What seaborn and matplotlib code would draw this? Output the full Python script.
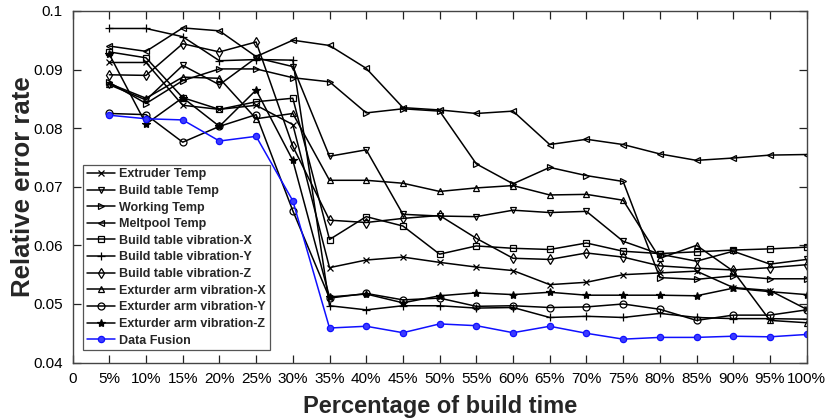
import matplotlib
matplotlib.use("Agg")
import matplotlib.pyplot as plt
from matplotlib import font_manager
import seaborn as sns
import pandas as pd

# Build-time checkpoints (percent of build time)
build_pct = [5, 10, 15, 20, 25, 30, 35, 40, 45, 50, 55, 60, 65, 70, 75, 80, 85, 90, 95, 100]

extruder_temp = [0.0912, 0.0912, 0.0839, 0.0832, 0.0839, 0.0806, 0.0562, 0.0575, 0.0580, 0.0571,
                 0.0563, 0.0557, 0.0533, 0.0537, 0.0550, 0.0553, 0.0556, 0.0528, 0.0523, 0.0491]
build_table_temp = [0.0874, 0.0848, 0.0907, 0.0874, 0.0920, 0.0905, 0.0752, 0.0763, 0.0653, 0.0650,
                    0.0649, 0.0660, 0.0656, 0.0658, 0.0607, 0.0585, 0.0573, 0.0590, 0.0568, 0.0576]
working_temp = [0.0878, 0.0842, 0.0881, 0.0901, 0.0901, 0.0886, 0.0879, 0.0826, 0.0833, 0.0829,
                0.0739, 0.0705, 0.0733, 0.0719, 0.0709, 0.0545, 0.0542, 0.0548, 0.0543, 0.0543]
meltpool_temp = [0.0940, 0.0931, 0.0971, 0.0966, 0.0922, 0.0950, 0.0941, 0.0902, 0.0835, 0.0831,
                 0.0825, 0.0829, 0.0772, 0.0781, 0.0772, 0.0756, 0.0745, 0.0749, 0.0754, 0.0755]
bt_vib_x = [0.0930, 0.0920, 0.0852, 0.0832, 0.0845, 0.0851, 0.0610, 0.0649, 0.0633, 0.0585,
            0.0599, 0.0595, 0.0593, 0.0604, 0.0590, 0.0586, 0.0589, 0.0592, 0.0594, 0.0597]
bt_vib_y = [0.0970, 0.0970, 0.0956, 0.0915, 0.0917, 0.0916, 0.0497, 0.0490, 0.0497, 0.0497,
            0.0493, 0.0494, 0.0477, 0.0479, 0.0477, 0.0484, 0.0477, 0.0475, 0.0475, 0.0474]
bt_vib_z = [0.0891, 0.0890, 0.0944, 0.0930, 0.0947, 0.0769, 0.0643, 0.0639, 0.0646, 0.0651,
            0.0612, 0.0578, 0.0576, 0.0587, 0.0580, 0.0565, 0.0561, 0.0558, 0.0562, 0.0567]
ea_vib_x = [0.0876, 0.0851, 0.0887, 0.0885, 0.0816, 0.0825, 0.0711, 0.0711, 0.0706, 0.0692,
            0.0698, 0.0702, 0.0686, 0.0687, 0.0677, 0.0578, 0.0600, 0.0556, 0.0472, 0.0468]
ea_vib_y = [0.0825, 0.0823, 0.0776, 0.0803, 0.0823, 0.0659, 0.0510, 0.0518, 0.0507, 0.0510,
            0.0496, 0.0497, 0.0494, 0.0495, 0.0500, 0.0491, 0.0472, 0.0481, 0.0481, 0.0490]
ea_vib_z = [0.0926, 0.0807, 0.0852, 0.0803, 0.0865, 0.0745, 0.0512, 0.0517, 0.0502, 0.0514,
            0.0519, 0.0516, 0.0520, 0.0515, 0.0515, 0.0515, 0.0514, 0.0527, 0.0521, 0.0516]
data_fusion = [0.0822, 0.0816, 0.0814, 0.0778, 0.0786, 0.0676, 0.0459, 0.0462, 0.0451, 0.0466,
               0.0463, 0.0451, 0.0462, 0.0450, 0.0440, 0.0443, 0.0443, 0.0445, 0.0444, 0.0448]

series_names = ["Extruder Temp", "Build table Temp", "Working Temp", "Meltpool Temp",
                "Build table vibration-X", "Build table vibration-Y", "Build table vibration-Z",
                "Exturder arm vibration-X", "Exturder arm vibration-Y", "Exturder arm vibration-Z",
                "Data Fusion"]
series_values = [extruder_temp, build_table_temp, working_temp, meltpool_temp,
                 bt_vib_x, bt_vib_y, bt_vib_z, ea_vib_x, ea_vib_y, ea_vib_z, data_fusion]

x_ticks = list(range(0, 105, 5))
x_tick_labels = ["0"] + [f"{v}%" for v in x_ticks[1:]]
y_ticks = [0.04, 0.05, 0.06, 0.07, 0.08, 0.09, 0.1]
y_tick_labels = ["0.04", "0.05", "0.06", "0.07", "0.08", "0.09", "0.1"]

df = pd.DataFrame({"pct": build_pct})
for name, vals in zip(series_names, series_values):
    df[name] = vals
long_df = df.melt(id_vars="pct", var_name="sensor", value_name="err")

sns.set_style("ticks")
installed = {f.name for f in font_manager.fontManager.ttflist}
narrow = "Liberation Sans Narrow" if "Liberation Sans Narrow" in installed else "Liberation Sans"
plt.rcParams["font.family"] = [narrow, "Liberation Sans", "DejaVu Sans"]

fig = plt.figure(figsize=(8.28, 4.19), dpi=100)
ax = fig.add_axes([0.0877, 0.1346, 0.8865, 0.8394])

styles = {
    "Extruder Temp": dict(marker="x", ms=4.5, mfc="none"),
    "Build table Temp": dict(marker="v", ms=5, mfc="none"),
    "Working Temp": dict(marker=">", ms=5, mfc="none"),
    "Meltpool Temp": dict(marker="<", ms=5, mfc="none"),
    "Build table vibration-X": dict(marker="s", ms=4.5, mfc="none"),
    "Build table vibration-Y": dict(marker="+", ms=6, mfc="none"),
    "Build table vibration-Z": dict(marker="d", ms=5, mfc="none"),
    "Exturder arm vibration-X": dict(marker="^", ms=5, mfc="none"),
    "Exturder arm vibration-Y": dict(marker="o", ms=5, mfc="none"),
    "Exturder arm vibration-Z": dict(marker="*", ms=6, mfc="black"),
    "Data Fusion": dict(marker="o", ms=4.5, mfc="#3b3bff"),
}

for name in series_names:
    sub = long_df[long_df["sensor"] == name]
    color = "#1010ff" if name == "Data Fusion" else "black"
    st = styles[name]
    sns.lineplot(data=sub, x="pct", y="err", ax=ax, color=color, lw=1.1,
                 marker=st["marker"], markersize=st["ms"],
                 markerfacecolor=st["mfc"], markeredgecolor=color,
                 markeredgewidth=0.9, label=name, legend=False)

ax.set_xlim(0, 100)
ax.set_ylim(0.04, 0.1)
ax.set_xticks(x_ticks)
ax.set_xticklabels(x_tick_labels, fontsize=11)
ax.set_yticks(y_ticks)
ax.set_yticklabels(y_tick_labels, fontsize=11)
ax.tick_params(direction="in", top=True, right=True, length=6, width=0.9,
               colors="#222222", labelcolor="black")
ax.tick_params(axis="x", pad=7)
ax.tick_params(axis="y", pad=7)
for s in ax.spines.values():
    s.set_color("#444444")
    s.set_linewidth(1.0)

ax.set_xlabel("Percentage of build time", fontsize=17, fontweight="bold",
              family=[narrow, "Liberation Sans", "DejaVu Sans"], labelpad=6)
ax.set_ylabel("Relative error rate", fontsize=18.5, fontweight="bold",
              family=["Liberation Sans", "DejaVu Sans"], labelpad=-1)

handles, labels = ax.get_legend_handles_labels()
leg = ax.legend(handles, labels, loc="lower left", bbox_to_anchor=(0.014, 0.035),
                frameon=True, fancybox=False, edgecolor="#555555", framealpha=1,
                prop=dict(family=["Liberation Sans", "DejaVu Sans"], weight="bold", size=9),
                handlelength=2.3, handletextpad=0.3, labelspacing=0.37,
                borderpad=0.3, borderaxespad=0)
leg.get_frame().set_linewidth(0.9)

fig.savefig("out.png", dpi=100)
